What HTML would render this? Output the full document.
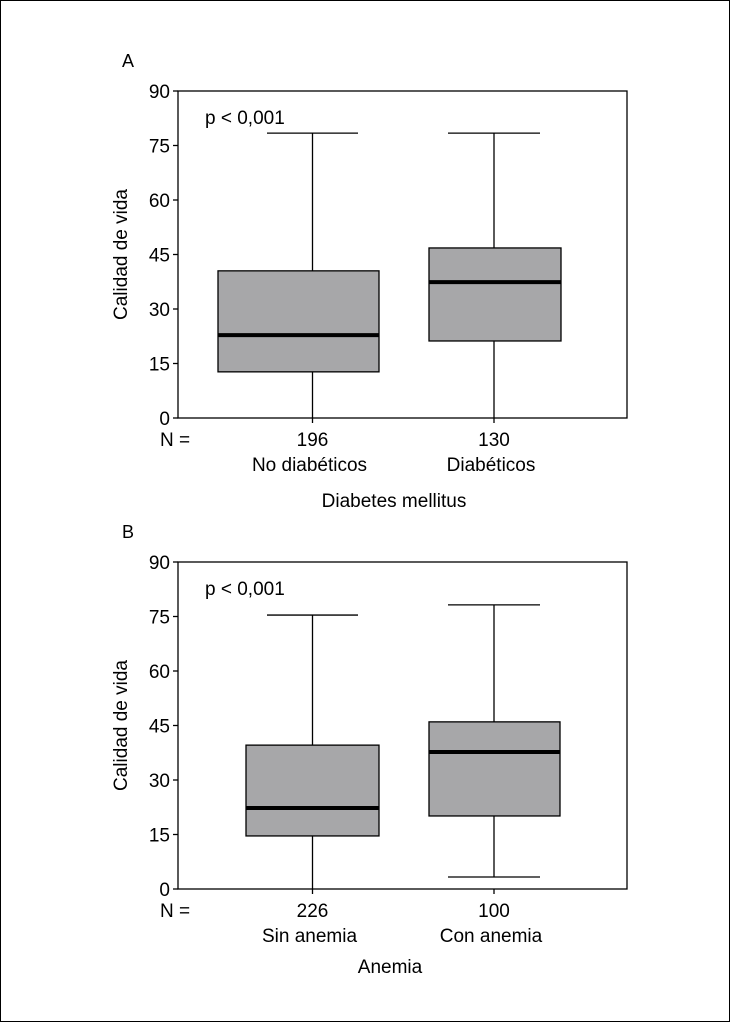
<!DOCTYPE html>
<html><head><meta charset="utf-8"><style>
body{margin:0;background:#fff}
svg{display:block;font-family:"Liberation Sans",sans-serif;}
</style></head><body>
<svg id="c" width="730" height="1022">
<rect x="0.5" y="0.5" width="729" height="1021" fill="#fff" stroke="#000"/>
</svg>
<script>
const tickValues=[0,15,30,45,60,75,90];
const panelLabels=["A","B"];
const xTitles=["Diabetes mellitus","Anemia"];
const catsA=["No diabéticos","Diabéticos"];
const catsB=["Sin anemia","Con anemia"];
const nA=["196","130"];
const nB=["226","100"];
const whiskLowA=[0,0];
const q1A=[12.7,21.2];
const medA=[22.8,37.4];
const q3A=[40.5,46.8];
const whiskHighA=[78.4,78.4];
const whiskLowB=[0,3.3];
const q1B=[14.6,20.1];
const medB=[22.3,37.7];
const q3B=[39.6,46.0];
const whiskHighB=[75.4,78.2];

const svg=document.getElementById('c');
const NS='http://www.w3.org/2000/svg';
function mk(tag,at,txt){const e=document.createElementNS(NS,tag);for(const k in at)e.setAttribute(k,at[k]);if(txt!==undefined)e.textContent=txt;svg.appendChild(e);return e;}
const L=178,R=627,H=327;
const boxX=[[218,379],[429,561]];
const capX=[[267,358],[448,540]];
const boxXB=[[246,379],[429,560]];
function panel(p,top,cats,ns,lo,q1,md,q3,hi,bx,titleY){
  const bot=top+H;
  const y=v=>bot-v/90*H;
  let e;
  e=mk('text',{x:122,y:top-24,'font-size':18},panelLabels[p]);
  
  
  e=mk('rect',{x:L,y:top,width:R-L,height:H,fill:'none',stroke:'#000','stroke-width':1.3});
  
  
  tickValues.forEach(v=>{
    e=mk('line',{x1:L-5,x2:L,y1:y(v),y2:y(v),stroke:'#000','stroke-width':1.3});
    
    
    e=mk('text',{x:L-8,y:y(v)+7,'font-size':19,'text-anchor':'end'},String(v));
    
    
  });
  const mid=top+H/2;
  e=mk('text',{x:0,y:0,'font-size':19,'text-anchor':'middle',transform:`translate(127,${mid}) rotate(-90)`},'Calidad de vida');
  
  
  e=mk('text',{x:205,y:top+33,'font-size':19},'p < 0,001');
  
  
  e=mk('text',{x:160,y:bot+28,'font-size':19},'N =');
  
  
  cats.forEach((c,i)=>{
    const [x0,x1]=bx[i];const cx=(capX[i][0]+capX[i][1])/2;const [c0,c1]=capX[i];
    e=mk('line',{x1:cx,x2:cx,y1:y(lo[i]),y2:y(q1[i]),stroke:'#000','stroke-width':1.3});
    
    
    e=mk('line',{x1:cx,x2:cx,y1:y(q3[i]),y2:y(hi[i]),stroke:'#000','stroke-width':1.3});
    
    
    e=mk('line',{x1:c0,x2:c1,y1:y(hi[i]),y2:y(hi[i]),stroke:'#000','stroke-width':1.3});
    
    
    if(lo[i]>0){e=mk('line',{x1:c0,x2:c1,y1:y(lo[i]),y2:y(lo[i]),stroke:'#000','stroke-width':1.3});
    
    }
    e=mk('rect',{x:x0,y:y(q3[i]),width:x1-x0,height:y(q1[i])-y(q3[i]),fill:'#a7a7a9',stroke:'#000','stroke-width':1.3});
    
    
    e=mk('line',{x1:x0,x2:x1,y1:y(md[i]),y2:y(md[i]),stroke:'#000','stroke-width':4});
    
    
    e=mk('line',{x1:cx,x2:cx,y1:bot,y2:bot+5,stroke:'#000','stroke-width':1.3});
    
    
    e=mk('text',{x:cx,y:bot+28,'font-size':19,'text-anchor':'middle'},ns[i]);
    
    
    e=mk('text',{x:cx-3,y:bot+53,'font-size':19,'text-anchor':'middle'},c);
    
    
  });
  e=mk('text',{x:p?390:394,y:titleY,'font-size':19,'text-anchor':'middle'},xTitles[p]);
  
  
}
panel(0,91,catsA,nA,whiskLowA,q1A,medA,q3A,whiskHighA,boxX,507);
panel(1,562,catsB,nB,whiskLowB,q1B,medB,q3B,whiskHighB,boxXB,973);
</script>
</body></html>
